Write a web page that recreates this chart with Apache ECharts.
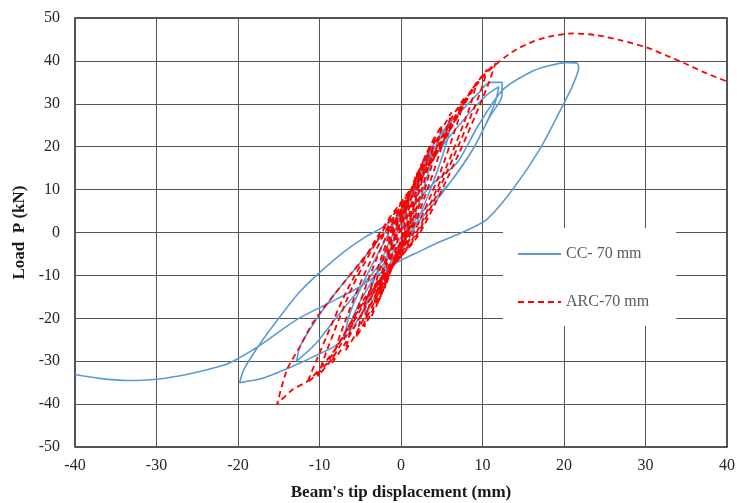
<!DOCTYPE html>
<html>
<head>
<meta charset="utf-8">
<script src="https://cdn.jsdelivr.net/npm/echarts@6/dist/echarts.min.js"></script>
<style>
  html, body { margin: 0; padding: 0; background: #fff; }
  #chart { width: 737px; height: 503px; }
</style>
</head>
<body>
<div id="chart"></div>
<script>
// axis ticks
const xTicks = [-40, -30, -20, -10, 0, 10, 20, 30, 40];
const yTicks = [-50, -40, -30, -20, -10, 0, 10, 20, 30, 40, 50];

// CC- 70 mm : [displacement mm, load kN]
const ccSmall1 = [[0,0],[0.8,6],[1.8,11],[2.5,14],[2.2,11],[1.4,5],[0.3,-1],[-1,-6],[-2,-10],[-2.5,-12],[-2.2,-9],[-1.3,-4],[-0.2,1.5]];
const ccSmall2 = [[1.2,8],[2.8,15],[4,20],[3.6,16],[2.4,8],[0.6,-1],[-1.8,-9],[-3.5,-16],[-4.5,-19],[-4,-15],[-2.5,-7],[-0.4,2]];
const ccSmall3 = [[1.8,10],[4.2,20],[6.2,26],[5.6,21],[3.8,11],[1,-1.5],[-2.5,-11],[-5.2,-20],[-7,-25],[-6.3,-19],[-4.2,-10],[-0.6,3]];
const ccCycle12 = [[1.5,10],[3.6,19.3],[5.5,24.5],[7.6,28.7],[9.5,32.5],[10.9,35],[12.4,35],[12.4,32],[10.9,27],[8.8,19.3],[6,11.6],[2.7,5],[0.5,0],
  [-2,-6],[-5,-13],[-8,-20],[-10.5,-26],[-12.8,-30],[-12.4,-26.6],[-10.3,-20],[-8,-14],[-5,-7],[-2,0],[0,4]];
const ccCycle20 = [[2,11],[5,20],[8,27],[10.5,32],[12,34],[11.5,30],[9,20],[5,9],[1.5,1],[-2,-7],[-5,-16],[-7.5,-25.6],[-10.8,-29],[-13.3,-31.2],
  [-17,-34],[-19.8,-35],[-19.3,-32],[-17.5,-26.5],[-15,-20],[-12.5,-14],[-9.8,-9],[-7,-4.5],[-4.5,-1.2],[-2,1.5],[0.1,4.5]];
const ccFinal = [[1.5,6.5],[4,11.5],[6.9,16.3],[9.5,25],[12.5,33.3],[15.8,37.3],[18,38.8],[20.4,39.6],[21.6,39.5],[21.8,38.5],[21,34],[19.9,29.8],
  [17,19.3],[13.7,10],[10.5,3],[7.5,0],[5,-2],[2.3,-4.4],[-0.5,-7],[-5,-12.6],[-8.7,-16.3],[-12.8,-20.3],[-17.3,-26.3],[-20.6,-30],
  [-22.2,-31.2],[-26.3,-33.1],[-30,-34.2],[-33.6,-34.5],[-37,-34],[-40,-33.1]];

// ARC-70 mm
const arcC1 = [[0,0],[0.5,4.5],[0.9,7.5],[1,8],[0.85,6],[0.5,2.5],[0.1,-1],[-0.5,-4.5],[-0.9,-7.5],[-1,-8],[-0.85,-6],[-0.5,-2.5],[-0.1,1]];
const arcC2 = [[0.5,5.5],[1.2,9.5],[1.5,11],[1.3,8.5],[0.8,4],[0.2,-1],[-0.7,-5.5],[-1.3,-9],[-1.5,-10],[-1.3,-7.5],[-0.8,-3],[-0.2,1.5]];
const arcC3 = [[0.7,7],[1.6,12],[2,14],[1.7,11],[1.1,5],[0.3,-1],[-0.9,-7],[-1.7,-11.5],[-2,-13],[-1.7,-10],[-1.1,-4],[-0.3,1.5]];
const arcC4 = [[0.9,8],[2,13.5],[2.5,16],[2.2,12.5],[1.4,6],[0.4,-1],[-1.1,-8],[-2.1,-13],[-2.5,-15],[-2.2,-11.5],[-1.4,-5],[-0.4,1.5]];
const arcC5 = [[1.1,9],[2.4,15],[3,18],[2.6,14],[1.7,7],[0.5,-1],[-1.3,-9],[-2.5,-15],[-3,-17],[-2.6,-13],[-1.7,-6],[-0.5,2]];
const arcC6 = [[1.3,10],[2.8,17],[3.5,20],[3.1,16],[2,8],[0.6,-1],[-1.5,-10],[-3,-17],[-3.6,-19.5],[-3.1,-15],[-2,-7],[-0.6,2]];
const arcC7 = [[1.5,11],[3.3,19],[4.2,22.5],[3.7,18],[2.4,9],[0.7,-1],[-1.8,-11],[-3.7,-19],[-4.5,-22],[-3.9,-17],[-2.5,-8],[-0.7,2]];
const arcC8 = [[1.8,12],[4,21.5],[5,25],[4.4,20],[2.9,10],[0.8,-1],[-2.2,-12],[-4.5,-21],[-5.5,-24.5],[-4.8,-19],[-3,-9],[-0.9,2]];
const arcC9 = [[2.2,13],[5,24],[6.2,28],[5.5,23],[3.6,12],[1,-1],[-2.7,-13],[-5.5,-23.5],[-6.8,-27.5],[-6,-21.5],[-3.8,-10],[-1.1,2]];
const arcC10 = [[2.8,14],[6.3,27],[7.8,31.5],[7,26],[4.6,13],[1.3,-1],[-3.3,-14],[-6.9,-26],[-8.5,-30.5],[-7.5,-24],[-4.8,-11],[-1.4,2]];
const arcC11 = [[3.4,16],[7.5,30],[9.3,35],[8.4,29],[5.5,15],[1.6,-1],[-4,-15],[-8.3,-29],[-10.2,-33.5],[-9,-27],[-5.8,-12],[-1.7,2]];
const arcC12 = [[3.9,17],[8.6,33],[10.6,38],[9.6,32],[6.3,17],[1.8,-1],[-4.5,-16],[-9.3,-31],[-11.5,-35],[-10.2,-29],[-6.5,-13],[-1.9,2]];
const arcC13 = [[4.2,18],[9.4,35],[11.6,39.5],[10.6,34],[7,18],[2,-1],[-4,-14],[-8,-27],[-11.2,-34.3],[-13.3,-36.6],[-15.2,-40]];
const arcFinal = [[-14,-32],[-12.4,-26.6],[-10.8,-21],[-8,-14],[-5,-7],[-2.5,-1],[0,4],[3,14],[6,24],[8,31],[10.1,36.4],[12.1,39.9],
  [14,42.5],[16.2,44.5],[18.5,45.8],[21,46.4],[24,46],[27,44.8],[30.2,43.1],[32.5,41.3],[34.6,39.6],[37,37.5],[40,35.2]];

const ccData = [].concat(ccSmall1, ccSmall2, ccSmall3, ccCycle12, ccCycle20, ccFinal);
const arcData = [].concat(arcC1, arcC2, arcC3, arcC4, arcC5, arcC6, arcC7, arcC8, arcC9, arcC10, arcC11, arcC12, arcC13, arcFinal);

const serif = "'Liberation Serif', 'Times New Roman', serif";
const chart = echarts.init(document.getElementById("chart"));

chart.setOption({
  animation: false,
  backgroundColor: "#fff",
  grid: {
    left: 75, right: 10, top: 18, bottom: 56,
    show: true, borderColor: "#1a1a1a", borderWidth: 1.5,
    containLabel: false, outerBoundsMode: "none"
  },
  xAxis: {
    type: "value",
    min: xTicks[0], max: xTicks[xTicks.length - 1], interval: 10,
    name: "Beam's tip displacement (mm)",
    nameLocation: "middle", nameGap: 37,
    nameTextStyle: { fontFamily: serif, fontWeight: "bold", fontSize: 17, color: "#1a1a1a" },
    axisLine: { show: false },
    axisTick: { show: false },
    axisLabel: { fontFamily: serif, fontSize: 16, color: "#262626", margin: 11 },
    splitLine: { show: true, lineStyle: { color: "#555", width: 1 } }
  },
  yAxis: {
    type: "value",
    min: yTicks[0], max: yTicks[yTicks.length - 1], interval: 10,
    name: "Load  P (kN)",
    nameLocation: "middle", nameGap: 37, nameRotate: 90,
    nameTextStyle: { fontFamily: serif, fontWeight: "bold", fontSize: 17, color: "#1a1a1a" },
    axisLine: { show: false },
    axisTick: { show: false },
    axisLabel: { fontFamily: serif, fontSize: 16, color: "#262626", margin: 15 },
    splitLine: { show: true, lineStyle: { color: "#555", width: 1 } }
  },
  legend: {
    orient: "vertical",
    left: 503, top: 228,
    padding: [18, 27, 16, 14],
    backgroundColor: "#fff",
    itemWidth: 43, itemHeight: 14, itemGap: 32,
    itemStyle: { opacity: 0, borderWidth: 0 },
    textStyle: { fontFamily: serif, fontSize: 16, color: "#595959" },
    data: ["CC- 70 mm", "ARC-70 mm"]
  },
  series: [
    {
      name: "CC- 70 mm", type: "line", data: ccData,
      symbol: "none", smooth: 0.25, clip: true,
      lineStyle: { color: "#5b9bd5", width: 1.6 },
      itemStyle: { color: "#5b9bd5" }
    },
    {
      name: "ARC-70 mm", type: "line", data: arcData,
      symbol: "none", smooth: 0.25, clip: true,
      lineStyle: { color: "#ff0000", width: 1.8, type: [6, 4] },
      itemStyle: { color: "#ff0000" }
    }
  ]
});
</script>
</body>
</html>
